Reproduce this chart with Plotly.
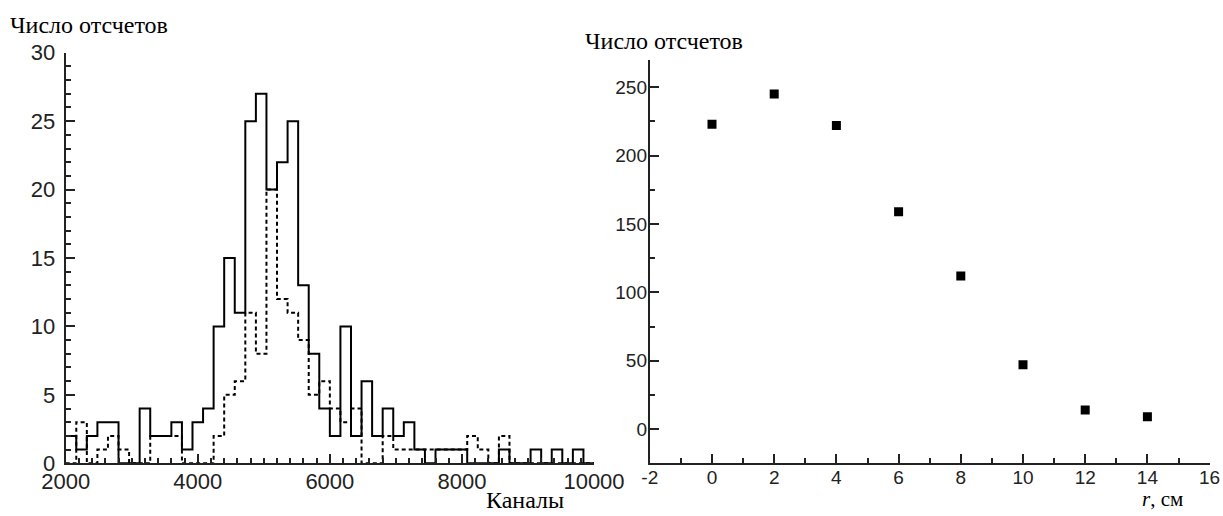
import numpy as np
import plotly.graph_objects as go

# ---- Left panel: histograms (channels 2000..10000, 50 bins) ----
hist_start = 2000
hist_bin_width = 160
counts_solid = [2, 1, 2, 3, 3, 0, 0, 4, 2, 2,
                3, 1, 3, 4, 10, 15, 11, 25, 27, 20,
                22, 25, 13, 8, 4, 2, 10, 2, 6, 2,
                4, 2, 3, 1, 0, 1, 1, 1, 0, 0,
                0, 1, 0, 0, 1, 0, 1, 0, 1, 0]
counts_dashed = [0, 3, 0, 1, 2, 1, 0, 0, 2, 2,
                 2, 0, 0, 0, 2, 5, 6, 11, 8, 20,
                 12, 11, 9, 5, 6, 4, 3, 4, 0, 0,
                 2, 1, 1, 1, 1, 1, 1, 1, 2, 1,
                 0, 2, 0, 0, 0, 0, 0, 0, 0, 0]

# ---- Right panel: counts vs r ----
r_cm = [0, 2, 4, 6, 8, 10, 12, 14]
counts_r = [223, 245, 222, 159, 112, 47, 14, 9]

left_x_ticks = [2000, 4000, 6000, 8000, 10000]
left_y_ticks = [0, 5, 10, 15, 20, 25, 30]
right_x_ticks = [-2, 0, 2, 4, 6, 8, 10, 12, 14, 16]
right_y_ticks = [0, 50, 100, 150, 200, 250]

W, H = 1223, 516
edges = hist_start + hist_bin_width * np.arange(len(counts_solid) + 1)

fig = go.Figure()
fig.add_trace(go.Scatter(
    x=edges, y=list(counts_dashed) + [counts_dashed[-1]],
    mode="lines", line=dict(shape="hv", color="black", width=2, dash="4px,3px"),
    xaxis="x", yaxis="y", showlegend=False, hoverinfo="skip"))
fig.add_trace(go.Scatter(
    x=edges, y=list(counts_solid) + [counts_solid[-1]],
    mode="lines", line=dict(shape="hv", color="black", width=2),
    xaxis="x", yaxis="y", showlegend=False, hoverinfo="skip"))
fig.add_trace(go.Scatter(
    x=r_cm, y=counts_r, mode="markers",
    marker=dict(symbol="square", size=9, color="black"),
    xaxis="x2", yaxis="y2", showlegend=False))

def px_x(p):
    return p / W

def px_y(p):
    return 1 - p / H

axcol = "#222222"
common = dict(showline=True, linecolor=axcol, linewidth=2, ticks="inside",
              tickcolor=axcol, tickwidth=1.5, showgrid=False, zeroline=False,
              mirror=False, automargin=False, ticklabeloverflow="allow")

def minor(dt):
    return dict(ticks="inside", dtick=dt, ticklen=5, tickcolor=axcol, tickwidth=1.5)

fig.update_layout(
    width=W, height=H,
    margin=dict(l=0, r=0, t=0, b=0),
    paper_bgcolor="white", plot_bgcolor="white",
    xaxis=dict(domain=[px_x(65.7), px_x(594)], range=[2000, 10000],
               tickvals=left_x_ticks, ticktext=[str(v) for v in left_x_ticks], ticklen=9,
               minor=minor(200), ticklabelstandoff=-3,
               tickfont=dict(family="Liberation Sans", size=22, color="#222"),
               anchor="y", **common),
    yaxis=dict(domain=[px_y(463.3), px_y(52.7)], range=[0, 30],
               tickvals=left_y_ticks, ticktext=[str(v) for v in left_y_ticks], ticklen=9,
               minor=minor(1), ticklabelstandoff=4,
               tickfont=dict(family="Liberation Sans", size=22, color="#222"),
               anchor="x", **common),
    xaxis2=dict(domain=[px_x(649.8), px_x(1209.6)], range=[-2, 16],
                tickvals=right_x_ticks, ticktext=[str(v) for v in right_x_ticks], ticklen=9,
                minor=minor(1), ticklabelstandoff=-4,
                tickfont=dict(family="Liberation Sans", size=19, color="#222"),
                anchor="y2", **common),
    yaxis2=dict(domain=[px_y(463.3), px_y(59.9)], range=[-25, 270],
                tickvals=right_y_ticks, ticktext=[str(v) for v in right_y_ticks], ticklen=9,
                minor=minor(25), ticklabelstandoff=-3,
                tickfont=dict(family="Liberation Sans", size=19, color="#222"),
                anchor="x2", **common),
)

serif = "Liberation Serif"
ann = [
    dict(text="Число отсчетов", x=px_x(8), y=px_y(25), size=24),
    dict(text="Число отсчетов", x=px_x(583), y=px_y(41), size=24),
    dict(text="Каналы", x=px_x(484), y=px_y(500), size=24),
    dict(text="<i>r</i>, см", x=px_x(1140), y=px_y(499), size=21),
]
for a in ann:
    fig.add_annotation(text=a["text"], x=a["x"], y=a["y"], xref="paper", yref="paper",
                       xanchor="left", yanchor="middle", showarrow=False,
                       font=dict(family=serif, size=a["size"], color="black"))

fig.write_html("out.html",
               config={"displayModeBar": False},
               post_script="document.body.style.margin='0';document.body.style.overflow='hidden';")
